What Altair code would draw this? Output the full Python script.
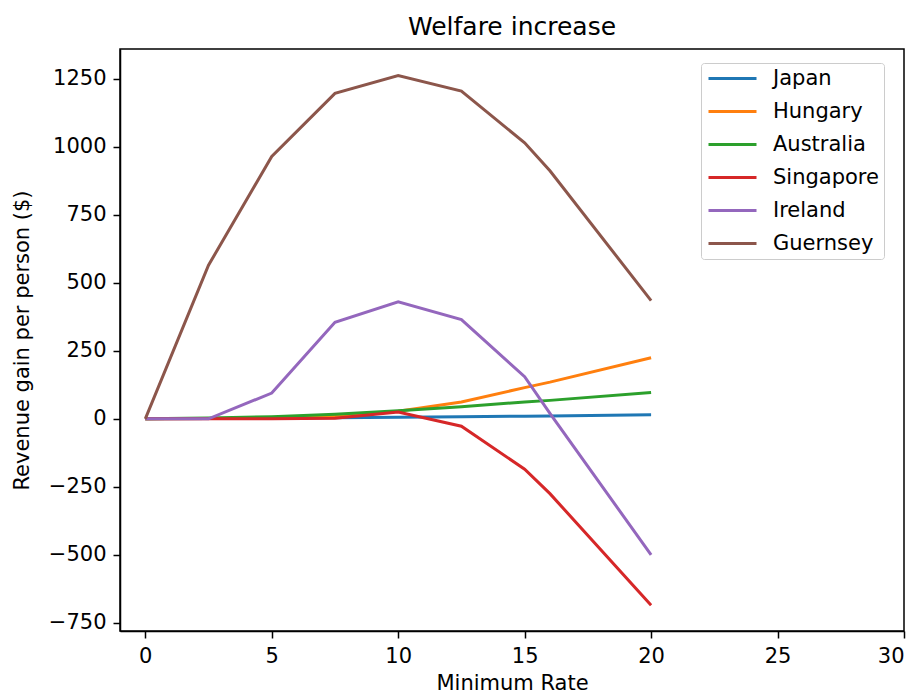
import altair as alt
import pandas as pd

# Data
x_vals = [0, 2.5, 5, 7.5, 10, 12.5, 15, 16, 20]
countries = ["Japan", "Hungary", "Australia", "Singapore", "Ireland", "Guernsey"]
colors = ["#1f77b4", "#ff7f0e", "#2ca02c", "#d62728", "#9467bd", "#8c564b"]
japan = [0, 1, 2, 4, 6, 8, 10, 11, 15]
hungary = [0, 1, 3, 10, 28, 62, 115, 135, 225]
australia = [0, 3, 8, 17, 30, 45, 62, 68, 97]
singapore = [0, 0, 0, 2, 25, -27, -185, -275, -685]
ireland = [0, 0, 95, 355, 430, 365, 155, 20, -500]
guernsey = [0, 565, 965, 1197, 1262, 1205, 1015, 912, 435]
x_ticks = [0, 5, 10, 15, 20, 25, 30]
y_ticks = [-750, -500, -250, 0, 250, 500, 750, 1000, 1250]

series = [japan, hungary, australia, singapore, ireland, guernsey]
rows = []
for name, vals in zip(countries, series):
    for xv, yv in zip(x_vals, vals):
        rows.append({"rate": xv, "value": yv, "country": name})
df = pd.DataFrame(rows)

FONT = "DejaVu Sans"

chart = alt.Chart(df).mark_line(strokeWidth=3).encode(
    x=alt.X("rate:Q", title="Minimum Rate",
            scale=alt.Scale(domain=[-1, 30], nice=False, zero=False),
            axis=alt.Axis(values=x_ticks, format="d", grid=False,
                          titlePadding=6)),
    y=alt.Y("value:Q", title="Revenue gain per person ($)",
            scale=alt.Scale(domain=[-780, 1360], nice=False, zero=False),
            axis=alt.Axis(values=y_ticks, format="d", grid=False,
                          titlePadding=16)),
    color=alt.Color("country:N", title=None,
                    scale=alt.Scale(domain=countries, range=colors),
                    sort=countries,
                    legend=alt.Legend(
                        orient="none", legendX=581, legendY=14,
                        symbolType="M-1,0H5", symbolSize=256,
                        symbolStrokeWidth=3, labelOffset=46,
                        labelFontSize=21, labelFont=FONT, labelColor="black",
                        rowPadding=11, padding=5,
                        strokeColor="#cccccc", fillColor="white",
                        cornerRadius=3)),
).properties(
    width=784, height=582,
    title=alt.TitleParams("Welfare increase", fontSize=25, font=FONT,
                          fontWeight="normal", anchor="middle",
                          baseline="alphabetic", offset=14, dy=25,
                          color="black"),
    autosize=alt.AutoSizeParams(type="none"),
    padding={"left": 120, "top": 49, "right": 11, "bottom": 65},
).configure_view(
    stroke="black", strokeWidth=1.5
).configure_axis(
    labelFont=FONT, titleFont=FONT, labelFontSize=21, titleFontSize=21,
    titleFontWeight="normal", labelColor="black", titleColor="black",
    domainColor="black", domainWidth=1.5, tickColor="black", tickWidth=1.5,
    tickSize=7, labelPadding=7
)

chart.save("out.html", embed_options={"renderer": "svg", "actions": False})
